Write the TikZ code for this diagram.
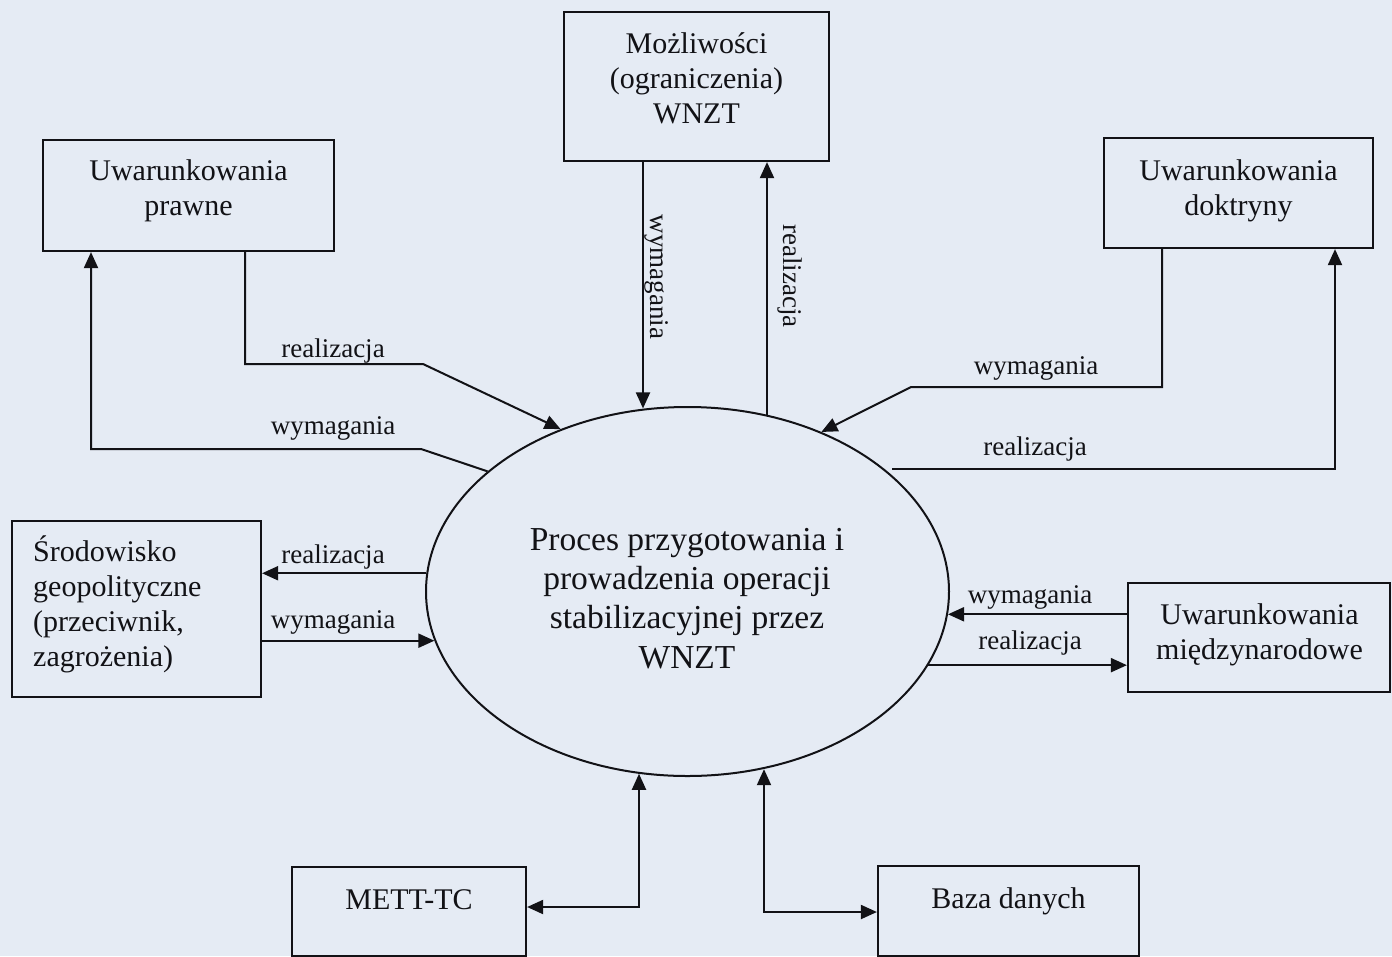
\documentclass[tikz,border=0pt]{standalone}
\usepackage{fontspec}
\setmainfont{Liberation Serif}
\usetikzlibrary{arrows.meta,shapes.geometric}

\definecolor{paper}{RGB}{229,235,244}
\definecolor{ink}{RGB}{18,18,22}

\tikzset{
  boxnode/.style={draw=ink, line width=2.2pt, inner sep=0pt, rectangle},
  btext/.style={font=\fontsize{30}{35}\selectfont, text=ink, align=center, inner sep=0pt},
  lbl/.style={font=\fontsize{27}{30}\selectfont, text=ink, inner sep=0pt},
  flow/.style={draw=ink, line width=2pt, -{Triangle[length=16pt,width=14pt]}},
  dflow/.style={draw=ink, line width=2pt, {Triangle[length=16pt,width=14pt]}-{Triangle[length=16pt,width=14pt]}},
}

\begin{document}
\begin{tikzpicture}[x=1pt, y=-1pt]
  \useasboundingbox (0,0) rectangle (1392,956);
  \clip (0,0) rectangle (1392,956);
  \fill[paper] (0,0) rectangle (1392,956);

  % central process
  \node[draw=ink, line width=2pt, ellipse, inner sep=0pt,
        minimum width=523pt, minimum height=369pt] (proc) at (687.5,591.5) {};
  \node[font=\fontsize{33.5}{39.3}\selectfont, text=ink, align=center, inner sep=0pt]
        (t-proc) at (687,598.5) {Proces przygotowania i\\prowadzenia operacji\\stabilizacyjnej przez\\WNZT};

  % surrounding boxes
  \node[boxnode, minimum width=291pt, minimum height=111pt] (prawne) at (188.5,195.5) {};
  \node[btext] (t-prawne) at (188.5,191) {Uwarunkowania\\prawne};

  \node[boxnode, minimum width=265pt, minimum height=149pt] (mozl) at (696.5,86.5) {};
  \node[btext] (t-mozl) at (696.5,78) {Możliwości\\(ograniczenia)\\WNZT};

  \node[boxnode, minimum width=269pt, minimum height=110pt] (dokt) at (1238.5,193) {};
  \node[btext] (t-dokt) at (1238.5,190.5) {Uwarunkowania\\doktryny};

  \node[boxnode, minimum width=249pt, minimum height=176pt] (srod) at (136.5,609) {};
  \node[btext, align=left, anchor=west] (t-srod) at (33,604.5) {Środowisko\\geopolityczne\\(przeciwnik,\\zagrożenia)};

  \node[boxnode, minimum width=262pt, minimum height=109pt] (miedz) at (1259,637.5) {};
  \node[btext] (t-miedz) at (1259.5,635) {Uwarunkowania\\międzynarodowe};

  \node[boxnode, minimum width=234pt, minimum height=89pt] (mett) at (409,911.5) {};
  \node[btext] (t-mett) at (409,899.5) {METT-TC};

  \node[boxnode, minimum width=261pt, minimum height=90pt] (baza) at (1008.5,911) {};
  \node[btext] (t-baza) at (1008.5,901) {Baza danych};

  % bend points of the connectors
  \coordinate (pA) at (245,364);
  \coordinate (pB) at (423,364);
  \coordinate (pC) at (421,449);
  \coordinate (pD) at (91,449);
  \coordinate (mx1) at (643,300);
  \coordinate (mx2) at (767,300);
  \coordinate (dA) at (1162,387);
  \coordinate (dB) at (911,387);
  \coordinate (dC) at (1335,300);
  \coordinate (mk) at (639,907);
  \coordinate (bk) at (764,912);

  % legal conditions
  \draw[flow] (prawne.south -| pA) -- (pA) -- (pB) -- (proc.128.07);
  \draw[flow] (proc.149.7) -- (pC) -- (pD) -- (prawne.south -| pD);
  \node[lbl] (l1) at (333,350.7) {realizacja};
  \node[lbl] (l2) at (333,428.7) {wymagania};

  % capabilities
  \draw[flow] (mozl.south -| mx1) -- (mx1 |- proc.103.75);
  \draw[flow] (mx2 |- proc.65.67) -- (mozl.south -| mx2);
  \node[lbl, rotate=-90] (l3) at (657,277) {wymagania};
  \node[lbl, rotate=-90] (l4) at (790,276) {realizacja};

  % doctrine
  \draw[flow] (dokt.south -| dA) -- (dA) -- (dB) -- (proc.50.5);
  \draw[flow, shorten <=8pt] (proc.32.45) -- (proc.32.45 -| dC) -- (dokt.south -| dC);
  \node[lbl] (l5) at (1036,368.7) {wymagania};
  \node[lbl] (l6) at (1035,448.7) {realizacja};

  % geopolitical environment
  \draw[flow] (proc.176.15) -- (srod.east |- proc.176.15);
  \draw[flow] (srod.east |- proc.191.83) -- (proc.191.83);
  \node[lbl] (l7) at (333,557) {realizacja};
  \node[lbl] (l8) at (333,622) {wymagania};

  % international conditions
  \draw[flow] (miedz.west |- proc.355.49) -- (proc.355.49);
  \draw[flow] (proc.343.48) -- (miedz.west |- proc.343.48);
  \node[lbl] (l9) at (1030,597) {wymagania};
  \node[lbl] (l10) at (1030,643) {realizacja};

  % METT-TC and database
  \draw[dflow] (mett.east |- mk) -- (mk) -- (mk |- proc.255.02);
  \draw[dflow] (bk |- proc.293.45) -- (bk) -- (baza.west |- bk);
\end{tikzpicture}
\end{document}
